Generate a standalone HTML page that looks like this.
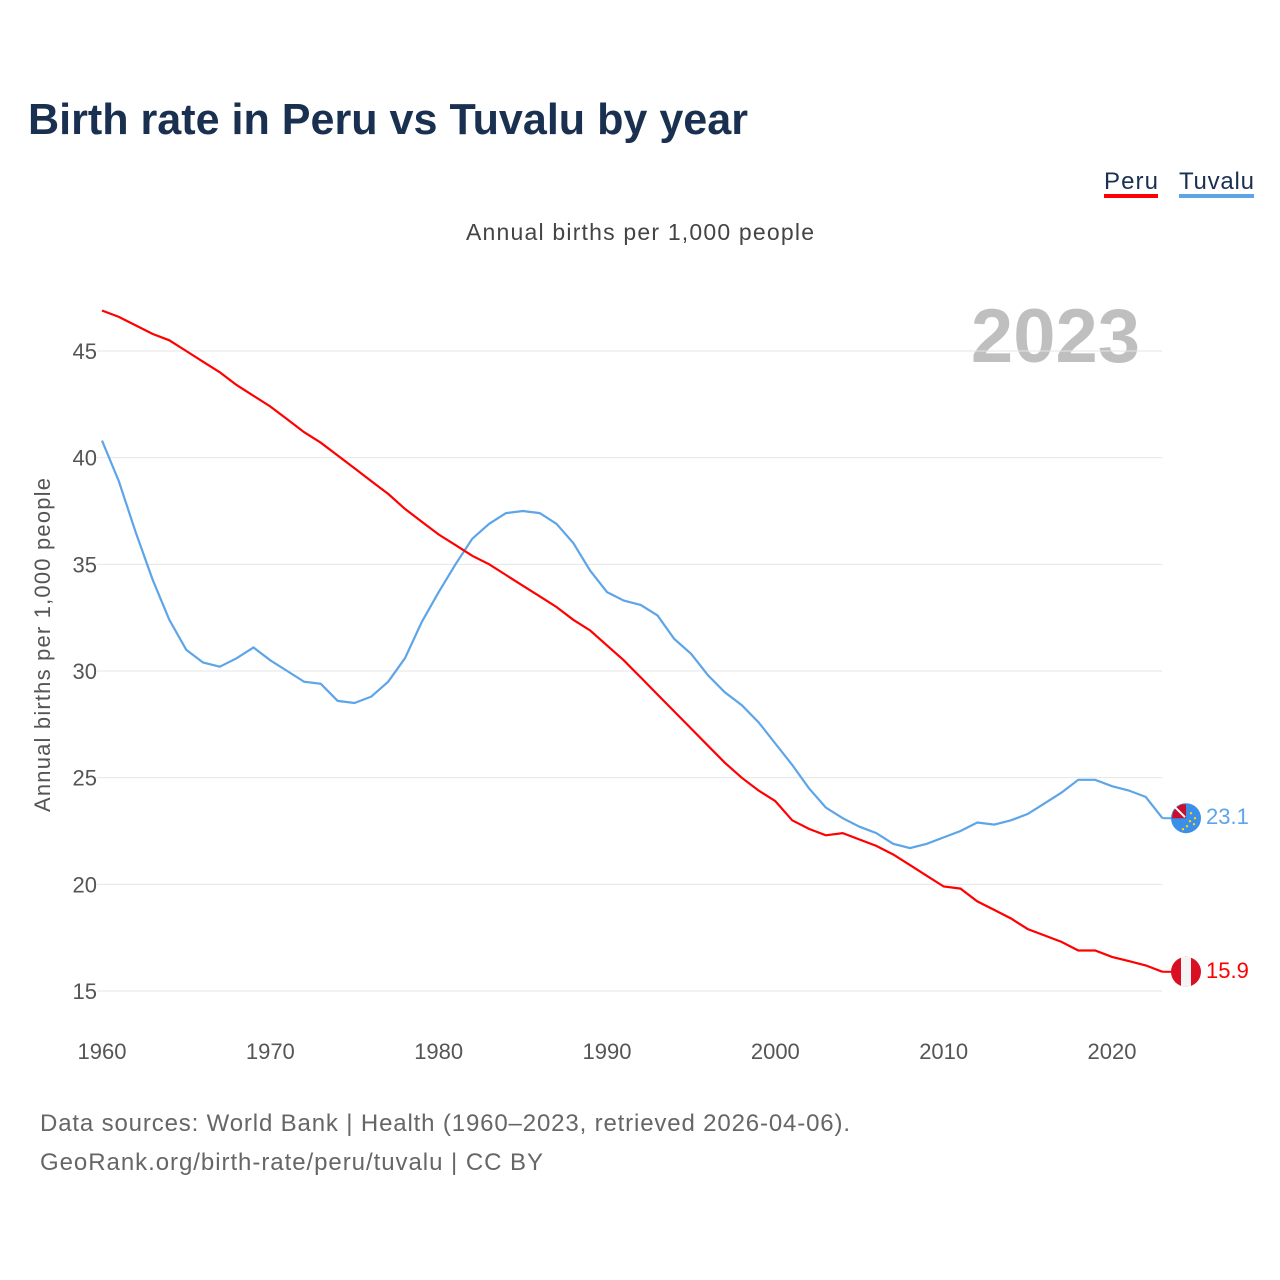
<!DOCTYPE html>
<html><head><meta charset="utf-8"><style>
body{margin:0;background:#fff;}
svg{display:block;font-family:"Liberation Sans",sans-serif;}
</style></head><body>
<svg id="chart" width="1280" height="1280" viewBox="0 0 1280 1280">
<text x="28" y="134" font-size="44" font-weight="bold" fill="#1a3050" textLength="720" lengthAdjust="spacingAndGlyphs">Birth rate in Peru vs Tuvalu by year</text>
<g>
<g><text x="1104" y="189" font-size="24" fill="#1a3050" textLength="54">Peru</text><rect x="1104" y="194" width="54" height="4" fill="#f00"/></g>
<g><text x="1179" y="189" font-size="24" fill="#1a3050" textLength="75">Tuvalu</text><rect x="1179" y="194" width="75" height="4" fill="#5da5e8"/></g>
</g>
<text x="640" y="240" font-size="23" fill="#444" text-anchor="middle" textLength="348">Annual births per 1,000 people</text>
<text x="1140" y="362" font-size="76" font-weight="bold" fill="#bfbfbf" text-anchor="end">2023</text>
<text transform="translate(50,645) rotate(-90)" font-size="22" fill="#555" text-anchor="middle" textLength="334">Annual births per 1,000 people</text>
<g id="grid"></g><g id="xt"></g><g id="lines"></g><g id="ends"></g>
<text x="40" y="1131" font-size="24" fill="#666" textLength="810">Data sources: World Bank | Health (1960–2023, retrieved 2026-04-06).</text>
<text x="40" y="1170" font-size="24" fill="#666" textLength="503">GeoRank.org/birth-rate/peru/tuvalu | CC BY</text>
</svg>
<script>
const years=[];for(let y=1960;y<=2023;y++)years.push(y);
const peru=[46.9,46.6,46.2,45.8,45.5,45.0,44.5,44.0,43.4,42.9,42.4,41.8,41.2,40.7,40.1,39.5,38.9,38.3,37.6,37.0,36.4,35.9,35.4,35.0,34.5,34.0,33.5,33.0,32.4,31.9,31.2,30.5,29.7,28.9,28.1,27.3,26.5,25.7,25.0,24.4,23.9,23.0,22.6,22.3,22.4,22.1,21.8,21.4,20.9,20.4,19.9,19.8,19.2,18.8,18.4,17.9,17.6,17.3,16.9,16.9,16.6,16.4,16.2,15.9];
const tuvalu=[40.8,38.9,36.5,34.3,32.4,31.0,30.4,30.2,30.6,31.1,30.5,30.0,29.5,29.4,28.6,28.5,28.8,29.5,30.6,32.3,33.7,35.0,36.2,36.9,37.4,37.5,37.4,36.9,36.0,34.7,33.7,33.3,33.1,32.6,31.5,30.8,29.8,29.0,28.4,27.6,26.6,25.6,24.5,23.6,23.1,22.7,22.4,21.9,21.7,21.9,22.2,22.5,22.9,22.8,23.0,23.3,23.8,24.3,24.9,24.9,24.6,24.4,24.1,23.1];
const yTicks=[15,20,25,30,35,40,45];
const xTicks=[1960,1970,1980,1990,2000,2010,2020];
const X=y=>102+(y-1960)*1010/60, Y=v=>991-(v-15)*640/30;
const NS='http://www.w3.org/2000/svg';
function mk(t,a,p){const e=document.createElementNS(NS,t);for(const k in a)e.setAttribute(k,a[k]);p.appendChild(e);return e;}
const grid=document.getElementById('grid');
yTicks.forEach(v=>{
 const l=mk('line',{x1:97,x2:1162,y1:Y(v),y2:Y(v),stroke:'#e6e6e6','stroke-width':1},grid);
 
 
 const t=mk('text',{x:97,y:Y(v)+8,'font-size':22,fill:'#555','text-anchor':'end'},grid);t.textContent=v;
 
 
});
const xt=document.getElementById('xt');
xTicks.forEach(v=>{
 const t=mk('text',{x:X(v),y:1059,'font-size':22,fill:'#555','text-anchor':'middle'},xt);t.textContent=v;
 
 
});
const lines=document.getElementById('lines');
function series(vals,col,name){
 const p=mk('path',{d:vals.map((v,i)=>(i?'L':'M')+X(years[i]).toFixed(1)+','+Y(v).toFixed(1)).join(''),fill:'none',stroke:col,'stroke-width':2.2},lines);
 
 
}
series(tuvalu,'#5da5e8','tuvalu-line');
series(peru,'#f00','peru-line');
const ends=document.getElementById('ends');
function endMark(vals,col,name,flag){
 const v=vals[vals.length-1],y=Y(v),x0=X(2023);
 mk('line',{x1:x0,x2:1172,y1:y,y2:y,stroke:col,'stroke-width':2},ends);
 const g=mk('g',{},ends);
 
 
 flag(g,1186,y);
 const t=mk('text',{x:1206,y:y+6,'font-size':22,fill:col},ends);t.textContent=v.toFixed(1);
 
 
}
endMark(tuvalu,'#5da5e8','tuvalu',(g,x,y)=>{
 mk('circle',{cx:x,cy:y,r:15,fill:'#3b8fe8'},g);
 mk('path',{d:`M${x-13},${y-6} A15,15 0 0 1 ${x-4},${y-14} L${x},${y-14} L${x},${y} L${x-14},${y} Z`,fill:'#c8102e'},g);
 mk('line',{x1:x-11,y1:y-11,x2:x-1,y2:y-1,stroke:'#fff','stroke-width':2},g);
 [[5,-5],[9,0],[4,3],[8,6],[1,8],[-3,11]].forEach(d=>mk('circle',{cx:x+d[0],cy:y+d[1],r:1.2,fill:'#ffd700'},g));
});
endMark(peru,'#f00','peru',(g,x,y)=>{
 mk('circle',{cx:x,cy:y,r:15,fill:'#d91023'},g);
 mk('rect',{x:x-5,y:y-15,width:10,height:30,fill:'#f4f4f4'},g);
});
</script>
</body></html>
